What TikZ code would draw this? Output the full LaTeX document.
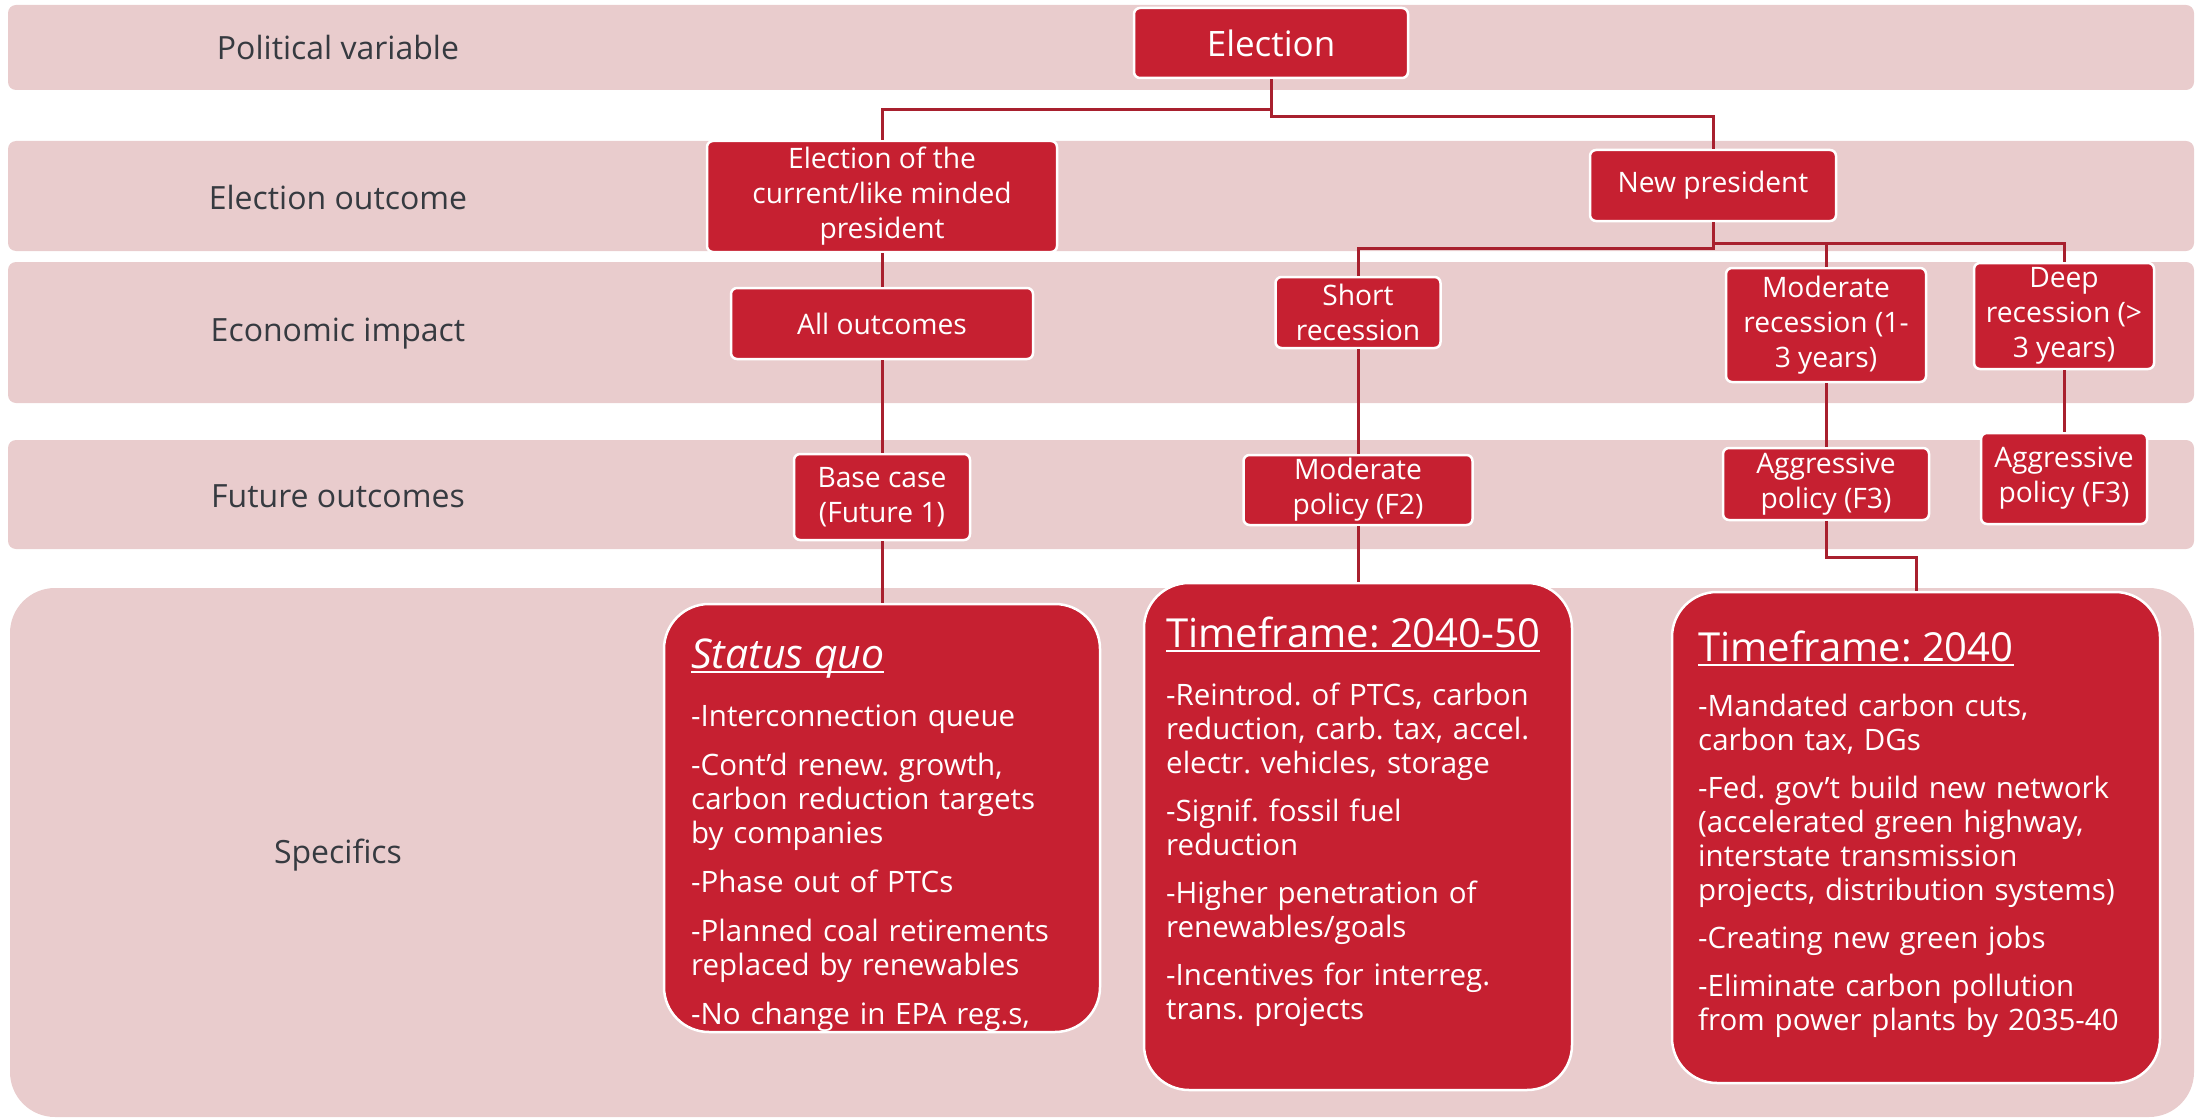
\documentclass[tikz,border=0pt]{standalone}
\usepackage{fontspec}
\setmainfont{Open Sans}
\definecolor{boxred}{HTML}{C62031}
\definecolor{bandpink}{HTML}{E9CCCD}
\definecolor{connred}{HTML}{A8202E}
\definecolor{labelgray}{HTML}{363A40}
\newcommand\titleul[1]{\leavevmode\setbox0\hbox{#1}\rlap{\rule[-5pt]{\wd0}{2pt}}\box0}
\frenchspacing
\begin{document}
\begin{tikzpicture}[x=1pt,y=-1pt,
  band/.style={fill=bandpink},
  rowlabel/.style={text=labelgray, font=\fontsize{32}{38}\selectfont, inner sep=0pt},
  sbox/.style={draw=white, line width=2.5pt, fill=boxred, rounded corners=6pt, text=white, align=center, font=\fontsize{28.2}{35}\selectfont, inner sep=0pt},
  bigbox/.style={draw=white, line width=2.5pt, fill=boxred, rounded corners=45pt, inner sep=0pt},
  conn/.style={draw=connred, line width=3pt},
  bodytext/.style={text=white, align=left, text width=470pt, anchor=base west, inner sep=0pt, font=\fontsize{29.5}{34}\selectfont},
  boxtitle/.style={text=white, anchor=base west, inner sep=0pt, font=\fontsize{40}{44}\selectfont}
]
\useasboundingbox (0,0) rectangle (2197,1118);
% bands
\fill[band, rounded corners=8pt] (8,5) rectangle (2194,90);
\fill[band, rounded corners=8pt] (8,141) rectangle (2194,251);
\fill[band, rounded corners=8pt] (8,262) rectangle (2194,403);
\fill[band, rounded corners=8pt] (8,440) rectangle (2194,549);
\fill[band, rounded corners=45pt] (10,588) rectangle (2194,1117);
% row labels
\node[rowlabel] (l1) at (338,48) {Political variable};
\node[rowlabel] (l2) at (338,197) {Election outcome};
\node[rowlabel] (l3) at (338,334) {Economic impact};
\node[rowlabel] (l4) at (338,496) {Future outcomes};
\node[rowlabel] (l5) at (338,855) {Specifics};
% small boxes
\node[sbox, minimum width=274pt, minimum height=70pt, font=\fontsize{35}{40}\selectfont] (elec) at (1271,43) {Election};
\node[sbox, minimum width=350pt, minimum height=111pt] (eoc) at (882,196.5) {Election of the\\current/like minded\\president};
\node[sbox, minimum width=246pt, minimum height=71pt] (np) at (1713,185.5) {New president};
\node[sbox, minimum width=302pt, minimum height=71pt] (allo) at (882,323.5) {All outcomes};
\node[sbox, minimum width=165pt, minimum height=71pt] (shortr) at (1358,312.5) {Short\\recession};
\node[sbox, minimum width=200pt, minimum height=114pt] (modr) at (1826,325) {Moderate\\recession (1-\\3 years)};
\node[sbox, minimum width=180pt, minimum height=106pt] (deepr) at (2064,316) {Deep\\recession (>\\3 years)};
\node[sbox, minimum width=176pt, minimum height=86pt] (base) at (882,497) {Base case\\(Future 1)};
\node[sbox, minimum width=229pt, minimum height=70pt] (modp) at (1358,490) {Moderate\\policy (F2)};
\node[sbox, minimum width=206pt, minimum height=72pt] (agg1) at (1826,484) {Aggressive\\policy (F3)};
\node[sbox, minimum width=166pt, minimum height=91pt] (agg2) at (2064,478.5) {Aggressive\\policy (F3)};
% big boxes
\node[bigbox, minimum width=436pt, minimum height=428pt] (sq) at (882,818) {};
\node[bigbox, minimum width=428pt, minimum height=507pt] (tf1) at (1358,836.5) {};
\node[bigbox, minimum width=488pt, minimum height=491pt] (tf2) at (1916,837.5) {};
% texts in big boxes
\begin{scope}
\clip[rounded corners=45pt] (sq.south west) rectangle (sq.north east);
\node[boxtitle, font=\fontsize{41}{44}\selectfont\itshape] (sqt) at (691,668) {\titleul{Status quo}};
\node[bodytext] (sqb) at (691,726) {-Interconnection queue\\[15pt]
-Cont'd renew. growth,\\
carbon reduction targets\\
by companies\\[15pt]
-Phase out of PTCs\\[15pt]
-Planned coal retirements\\
replaced by renewables\\[15pt]
-No change in EPA reg.s,};
\end{scope}
\node[boxtitle] (tf1t) at (1166,647) {\titleul{Timeframe: 2040-50}};
\node[bodytext] (tf1b) at (1166,705) {-Reintrod. of PTCs, carbon\\
reduction, carb. tax, accel.\\
electr. vehicles, storage\\[14pt]
-Signif. fossil fuel\\
reduction\\[14pt]
-Higher penetration of\\
renewables/goals\\[14pt]
-Incentives for interreg.\\
trans. projects};
\node[boxtitle] (tf2t) at (1698,661) {\titleul{Timeframe: 2040}};
\node[bodytext] (tf2b) at (1698,716) {-Mandated carbon cuts,\\
carbon tax, DGs\\[14pt]
-Fed. gov't build new network\\
(accelerated green highway,\\
interstate transmission\\
projects, distribution systems)\\[14pt]
-Creating new green jobs\\[14pt]
-Eliminate carbon pollution\\
from power plants by 2035-40};
% connectors
\draw[conn] (elec.south) -- ++(0,30) -| (eoc.north);
\draw[conn] (elec.south) -- ++(0,37) -| (np.north);
\draw[conn] (eoc.south) -- (allo.north);
\draw[conn] (allo.south) -- (base.north);
\draw[conn] (base.south) -- (sq.north);
\draw[conn] (np.south) -- ++(0,26) -| (shortr.north);
\draw[conn] (np.south) -- ++(0,21) -| (deepr.north);
\draw[conn] (np.south) -- ++(0,21) -| (modr.north);
\draw[conn] (shortr.south) -- (modp.north);
\draw[conn] (modp.south) -- (tf1.north);
\draw[conn] (modr.south) -- (agg1.north);
\draw[conn] (agg1.south) -- ++(0,36) -| (tf2.north);
\draw[conn] (deepr.south) -- (agg2.north);
\end{tikzpicture}
\end{document}
